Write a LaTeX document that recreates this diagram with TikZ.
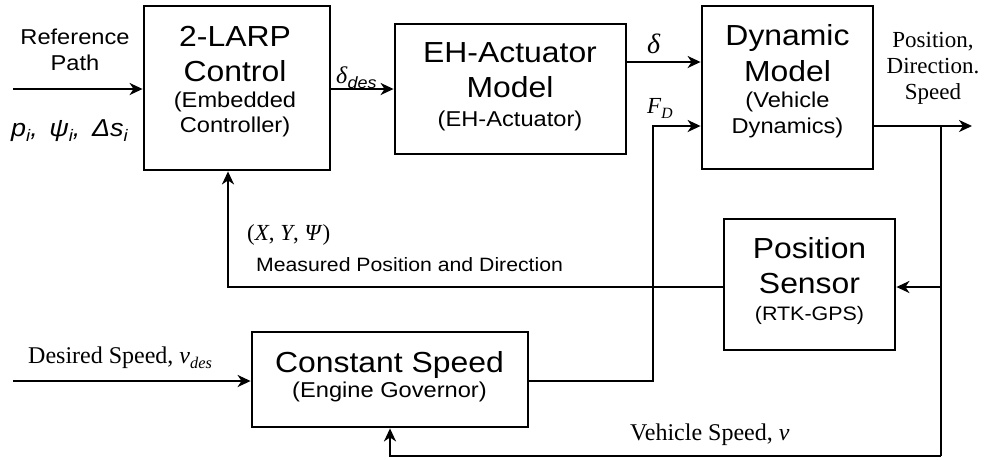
\documentclass[tikz,border=0pt]{standalone}
\usepackage{fontspec}
\setmainfont{Liberation Serif}
\newfontfamily\arialw{Liberation Sans}[FakeStretch=1.1]
\usetikzlibrary{arrows.meta,calc}

% lowered, shrunken subscript for text-mode labels
\newcommand\lowsub[2][0.68]{\raisebox{-0.24em}{\scalebox{#1}{#2}}}
\newcommand\fs[2]{\fontsize{#1}{#2}\selectfont}

\tikzset{
  blk/.style={draw, line width=2.8pt, inner sep=0pt},
  link/.style={line width=2.4pt},
  arr/.style={link, -{Stealth[length=13pt,width=12pt,inset=4pt]}},
  title/.style={inner sep=0pt, anchor=north, align=center, font=\arialw\fs{29}{35}},
  subtitle/.style={inner sep=0pt, anchor=north, align=center, font=\arialw\fs{21.5}{24.5}},
  lbl/.style={inner sep=0pt, anchor=base west},
}

\begin{document}
\begin{tikzpicture}[x=1pt, y=-1pt]
\path[use as bounding box] (0,0) rectangle (985,459);

% ---- blocks
\node[blk, minimum width=186pt, minimum height=164pt] (larp)   at (237,88)    {};
\node[blk, minimum width=231pt, minimum height=130pt] (act)    at (510.5,89)  {};
\node[blk, minimum width=171pt, minimum height=163pt] (dyn)    at (787.5,87.5) {};
\node[blk, minimum width=171pt, minimum height=131pt] (sensor) at (809.5,284.5) {};
\node[blk, minimum width=276pt, minimum height=95pt]  (speed)  at (390,379.5) {};

% ---- block texts
\node[title]    (larpT) at (235,26)  {2-LARP\\Control};
\node[subtitle] (larpS) at (235,92)  {(Embedded\\Controller)};
\node[title]    (actT)  at (510,42)  {EH-Actuator\\Model};
\node[subtitle] (actS)  at (510,111) {(EH-Actuator)};
\node[title, font=\arialw\fs{29}{36}]    (dynT) at (787.5,24) {Dynamic\\Model};
\node[subtitle, font=\arialw\fs{21.5}{26}] (dynS) at (787.5,92) {(Vehicle\\Dynamics)};
\node[title]    (senT)  at (809.5,237) {Position\\Sensor};
\node[subtitle, font=\arialw\fs{19.5}{23}] (senS) at (809.5,306) {(RTK-GPS)};
\node[title]    (spdT)  at (389.5,351) {Constant Speed};
\node[subtitle] (spdS)  at (389.5,382) {(Engine Governor)};

% ---- junction points and free ends
\coordinate (refin) at (13,89);
\coordinate (vin)   at (13,381);
\coordinate (tap)   at (941,126);
\coordinate (out)   at (972,126);
\coordinate (bot)   at (941,456);
\coordinate (fdup)  at (653,126);

% ---- connectors
\draw[arr] (refin) -- (refin -| larp.west);
\draw[arr] (larp.east |- 0,89) -- (act.west |- 0,89);
\draw[arr] (act.east |- 0,62) -- (dyn.west |- 0,62);
\draw[arr] (speed.east |- vin) -| (fdup) -- (fdup -| dyn.west);
\draw[arr] (dyn.east |- tap) -- (out);
\draw[link] (tap) -- (bot);
\draw[arr] (bot) -| (speed.south);
\draw[arr] (tap |- 0,287) -- (sensor.east |- 0,287);
\draw[arr] (sensor.west |- 0,287) -| ([xshift=-9pt]larp.south);
\draw[arr] (vin) -- (vin -| speed.west);

% ---- signal labels
\node[inner sep=0pt, anchor=north, align=center, font=\arialw\fs{21.5}{26}] (refL) at (75,28.5) {Reference\\Path};
\node[lbl, font=\arialw\itshape\fs{24.5}{28}] (refV) at (11,136)
  {p\lowsub{i}, \,ψ\lowsub{i}, \,Δs\lowsub{i}};
\node[lbl, font=\fs{24}{28}] (ddes) at (336,83) {\textit{δ}\lowsub{\arialw\itshape\fs{24}{28}des}};
\node[lbl, font=\fs{28}{30}] (dl) at (647,53) {\textit{δ}};
\node[lbl, font=\fs{23}{26}] (fdl) at (647,113) {\textit{F}\lowsub{\textit{D}}};
\node[inner sep=0pt, anchor=north, align=center, font=\fs{23}{26}] (outL) at (933,32) {Position,\\Direction.\\Speed};
\node[lbl, font=\fs{23}{26}] (xyL) at (247,240) {(\textit{X}, \textit{Y}, \textit{Ψ})};
\node[lbl, font=\arialw\fs{19.3}{22}] (measL) at (256,271) {Measured Position and Direction};
\node[lbl, font=\fs{24}{28}] (vdesL) at (28,363) {Desired Speed, \textit{v}\lowsub{\textit{des}}};
\node[lbl, font=\fs{24}{28}] (vL) at (630,440) {Vehicle Speed, \textit{v}};
\end{tikzpicture}
\end{document}
